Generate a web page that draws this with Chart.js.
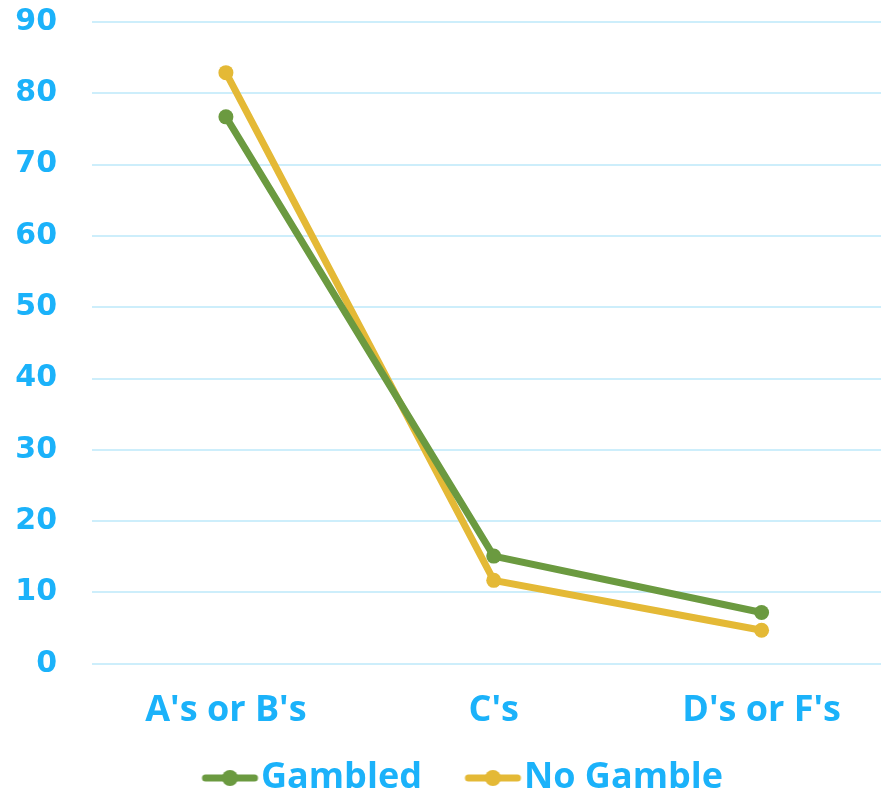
<!DOCTYPE html>
<html>
<head>
<meta charset="utf-8">
<script src="https://cdn.jsdelivr.net/npm/chart.js@4/dist/chart.umd.min.js"></script>
<style>
  html, body { margin: 0; padding: 0; background: #ffffff; overflow: hidden; }
  #wrap { width: 903px; height: 806px; }
</style>
</head>
<body>
<div id="wrap"><canvas id="chart" width="903" height="806"></canvas></div>
<script>
// Grade bands and the share of students (percent) in each one
const categories = ["A's or B's", "C's", "D's or F's"];
const gambled = [76.7, 15.1, 7.2];
const noGamble = [82.9, 11.7, 4.7];
const seriesNames = ['Gambled', 'No Gamble'];
const yTicks = [0, 10, 20, 30, 40, 50, 60, 70, 80, 90];

const BLUE = '#1bb2fa';
const GREEN = '#6b9a40';
const GOLD = '#e4b936';
const GRID = '#cdeefb';
const TEXT_FONT = '"Open Sans", Lato, sans-serif';
const NUM_FONT = '"DejaVu Sans", sans-serif';

// Line-with-dot legend marker; the stroke sits right of centre so it ends next to the text
function swatch(color) {
  const c = document.createElement('canvas');
  c.width = 116; c.height = 18;
  const g = c.getContext('2d');
  g.strokeStyle = color;
  g.lineWidth = 7;
  g.lineCap = 'round';
  g.beginPath(); g.moveTo(61, 9); g.lineTo(110, 9); g.stroke();
  g.fillStyle = color;
  g.beginPath(); g.arc(85.5, 9, 8, 0, Math.PI * 2); g.fill();
  return c;
}
const swatches = [swatch(GREEN), swatch(GOLD)];

// Nudge the legend row a little left of the canvas centre
const legendShift = {
  id: 'legendShift',
  afterLayout(chart) {
    if (chart.legend) { chart.legend.left -= 9; chart.legend.right -= 9; }
  }
};

new Chart(document.getElementById('chart'), {
  type: 'line',
  data: {
    labels: categories,
    datasets: [
      { label: seriesNames[0], data: gambled, borderColor: GREEN, backgroundColor: GREEN,
        borderWidth: 7, pointRadius: 7.5, pointHoverRadius: 7.5, pointBackgroundColor: GREEN,
        pointBorderWidth: 0, tension: 0 },
      { label: seriesNames[1], data: noGamble, borderColor: GOLD, backgroundColor: GOLD,
        borderWidth: 7, pointRadius: 7.5, pointHoverRadius: 7.5, pointBackgroundColor: GOLD,
        pointBorderWidth: 0, tension: 0 }
    ]
  },
  plugins: [legendShift],
  options: {
    responsive: false,
    animation: false,
    layout: { padding: { left: 0, right: 0, top: 22, bottom: 0 } },
    plugins: {
      tooltip: { enabled: false },
      legend: {
        position: 'bottom',
        labels: {
          usePointStyle: true,
          pointStyleWidth: 81,
          boxHeight: 18,
          padding: 3,
          color: BLUE,
          font: { family: TEXT_FONT, size: 36, weight: 'bold' },
          generateLabels(chart) {
            const items = Chart.defaults.plugins.legend.labels.generateLabels(chart);
            items.forEach((it, i) => { it.pointStyle = swatches[i]; });
            return items;
          }
        }
      }
    },
    scales: {
      x: {
        offset: true,
        grid: { display: false, drawTicks: false },
        border: { display: false },
        ticks: { color: BLUE, padding: 25, font: { family: TEXT_FONT, size: 36, weight: 'bold' } }
      },
      y: {
        min: 0, max: 90,
        afterFit(scale) { scale.width = 92; },
        afterBuildTicks(scale) { scale.ticks = yTicks.map(v => ({ value: v })); },
        grid: { color: GRID, lineWidth: 2, drawTicks: true, tickLength: 35, tickColor: 'rgba(0,0,0,0)' },
        border: { display: false },
        ticks: { color: BLUE, padding: 0, font: { family: NUM_FONT, size: 30, weight: 'bold' } }
      }
    }
  }
});
</script>
</body>
</html>
